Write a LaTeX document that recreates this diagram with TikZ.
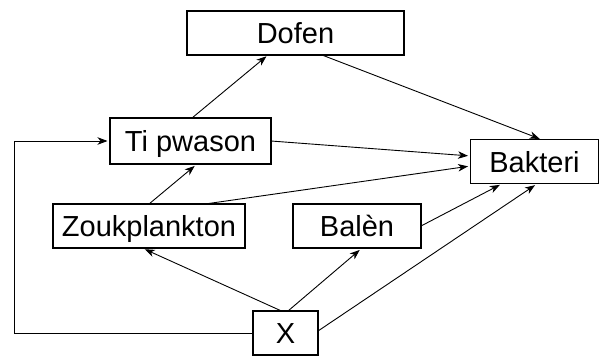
\documentclass[tikz,border=0pt]{standalone}
\usepackage{fontspec}
\setmainfont{Liberation Sans}
\usetikzlibrary{arrows.meta}
\begin{document}
\begin{tikzpicture}[x=1pt,y=-1pt,
  box/.style={draw, line width=1.8pt, inner sep=0pt, outer sep=0pt,
    font=\fontsize{29}{34}\selectfont, text height=21pt, text depth=0pt},
  arr/.style={-{Stealth[length=10pt,width=7.5pt,inset=3pt]}, line width=0.9pt}]
\useasboundingbox (0,0) rectangle (602,356);
\node[box, minimum width=217pt, minimum height=44pt] (dofen) at (295.5,33) {Dofen};
\node[box, minimum width=161pt, minimum height=46pt] (tip) at (190.5,141) {Ti pwason};
\node[box, minimum width=128pt, minimum height=44pt] (bak) at (534.5,161.5) {Bakteri};
\node[box, minimum width=192pt, minimum height=44pt] (zouk) at (149,226) {Zoukplankton};
\node[box, minimum width=128pt, minimum height=44pt] (balen) at (357,226) {Balèn};
\node[box, minimum width=65pt, minimum height=44pt] (x) at (285.5,333) {X};
\coordinate (corner) at (14,333);
% connectors
\draw[arr, shorten >=2pt] ([xshift=1.5pt]tip.north) -- ([xshift=-27.5pt]dofen.south);
\draw[arr, shorten >=2pt] ([xshift=26.5pt]dofen.south) -- ([xshift=7pt]bak.north);
\draw[arr, shorten >=2.5pt] (tip.east) -- ([yshift=5.5pt]bak.west);
\draw[arr, shorten >=2.5pt] ([xshift=56pt]zouk.north) -- ([yshift=-4.5pt]bak.west);
\draw[arr, shorten >=3pt] (zouk.north) -- ([xshift=6.5pt]tip.south);
\draw[arr, shorten >=3pt] (balen.east) -- ([xshift=-32pt]bak.south);
\draw[arr, shorten >=3pt] ([yshift=2pt]x.east) -- ([xshift=3pt]bak.south);
\draw[arr, shorten >=3pt] ([xshift=-4pt]x.north) -- ([xshift=-7pt]zouk.south);
\draw[arr, shorten >=3pt] ([xshift=2.5pt]x.north) -- ([xshift=5pt]balen.south);
\draw[arr, shorten >=2.5pt] (x.west) -- (corner) |- (tip.west);
\end{tikzpicture}
\end{document}
